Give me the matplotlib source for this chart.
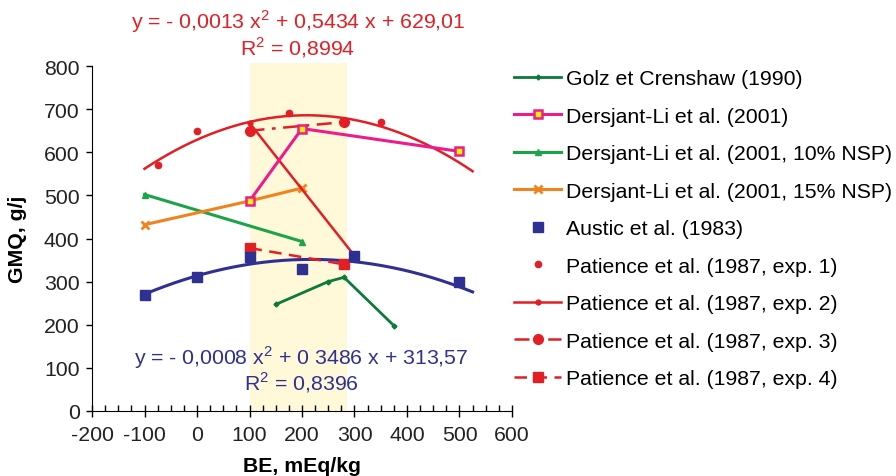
import numpy as np
import matplotlib.pyplot as plt

plt.rcParams['font.family'] = ['Liberation Sans', 'DejaVu Sans']
plt.rcParams['axes.unicode_minus'] = False

# Data
golz_x = [150, 250, 280, 375]
golz_y = [247, 300, 310, 198]

dl_x = [100, 200, 500]
dl_y = [487, 655, 602]

dl10_x = [-100, 200]
dl10_y = [502, 393]

dl15_x = [-100, 100, 200]
dl15_y = [432, 487, 517]

austic_x = [-100, 0, 100, 200, 300, 500]
austic_y = [268, 310, 358, 330, 360, 300]

pat1_x = [-75, 0, 175, 350]
pat1_y = [570, 650, 690, 670]

pat2_x = [100, 300]
pat2_y = [668, 360]

pat3_x = [100, 280]
pat3_y = [650, 670]

pat4_x = [100, 280]
pat4_y = [378, 340]

# trend lines shown in the chart
red_coef = [-0.0013, 0.5434, 629.01]
blue_coef = [-0.0008, 0.3486, 313.57]
trend_range = (-100, 525)

red = '#E31E24'
blue = '#2E3192'
pink = '#EC1C8C'
green = '#1BA548'
dgreen = '#0B7A3A'
orange = '#F0831E'
fs = 15.3

fig = plt.figure(figsize=(8.96, 4.77), dpi=100)
ax = fig.add_axes([0.1027, 0.1363, 0.4687, 0.7232])

# shaded zone
ax.fill_between([100, 285], 0, 808, color='#FFF8D9', lw=0, zorder=0, clip_on=False)

tx = np.linspace(trend_range[0], trend_range[1], 200)
ax.plot(tx, np.polyval(red_coef, tx), color=red, lw=1.8, zorder=2)
ax.plot(tx, np.polyval(blue_coef, tx), color=blue, lw=2.2, zorder=2)

ax.plot(golz_x, golz_y, color=dgreen, lw=2, marker='D', ms=2.5, label='Golz et Crenshaw (1990)', zorder=3)
ax.plot(dl_x, dl_y, color=pink, lw=2.2, marker='s', ms=6, mfc='#FFF200', mec=pink, mew=1.8,
        label='Dersjant-Li et al. (2001)', zorder=4)
ax.plot(dl10_x, dl10_y, color=green, lw=2.2, marker='^', ms=5, label='Dersjant-Li et al. (2001, 10% NSP)', zorder=3)
ax.plot(dl15_x, dl15_y, color=orange, lw=2.2, marker='x', ms=6, mew=2, label='Dersjant-Li et al. (2001, 15% NSP)', zorder=3)
ax.plot(austic_x, austic_y, ls='none', color=blue, marker='s', ms=6.5, label='Austic et al. (1983)', zorder=4)
ax.plot(pat1_x, pat1_y, ls='none', color=red, marker='o', ms=4.5, label='Patience et al. (1987, exp. 1)', zorder=4)
ax.plot(pat2_x, pat2_y, color=red, lw=1.8, marker='o', ms=3.5, label='Patience et al. (1987, exp. 2)', zorder=3)
ax.plot(pat3_x, pat3_y, color=red, lw=1.8, ls=(0, (6, 3, 1.5, 3)), marker='o', ms=7, mfc=red,
        label='Patience et al. (1987, exp. 3)', zorder=3)
ax.plot(pat4_x, pat4_y, color=red, lw=1.8, ls=(0, (5, 3)), marker='s', ms=6.5,
        label='Patience et al. (1987, exp. 4)', zorder=3)

# equations
ax.text(192, 906, r'y = - 0,0013 x$^{\mathregular{2}}$ + 0,5434 x + 629,01', color=red,
        fontsize=fs, ha='center', va='center', clip_on=False)
ax.text(192, 845, r'R$^{\mathregular{2}}$ = 0,8994', color=red, fontsize=fs, ha='center', va='center', clip_on=False)
ax.text(198, 127, r'y = - 0,0008 x$^{\mathregular{2}}$ + 0 3486 x + 313,57', color=blue,
        fontsize=fs, ha='center', va='center')
ax.text(198, 69, r'R$^{\mathregular{2}}$ = 0,8396', color=blue, fontsize=fs, ha='center', va='center')

ax.set_xlim(-200, 600)
ax.set_ylim(0, 800)
ax.set_xticks(range(-200, 601, 100))
ax.set_xticks(range(-200, 601, 25), minor=True)
ax.set_yticks(range(0, 801, 100))
ax.spines['top'].set_visible(False)
ax.spines['right'].set_visible(False)
ax.tick_params(axis='x', which='major', direction='inout', length=8, width=1, labelsize=fs, pad=6)
ax.tick_params(axis='x', which='minor', direction='in', length=4, width=1)
ax.tick_params(axis='y', which='major', direction='out', length=4, width=1, labelsize=fs, pad=5)
for lbl in ax.get_xticklabels() + ax.get_yticklabels():
    lbl.set_color('#222222')

ax.set_xlabel('BE, mEq/kg', fontsize=fs, fontweight='bold', labelpad=9)
ax.set_ylabel('GMQ, g/j', fontsize=fs, fontweight='bold', labelpad=12)

fig.legend(loc='upper left', bbox_to_anchor=(0.574, 0.853), frameon=False, fontsize=fs,
           handlelength=2.2, handletextpad=0.25, labelspacing=0.87, borderpad=0, borderaxespad=0)

fig.savefig('out.png', dpi=100)
